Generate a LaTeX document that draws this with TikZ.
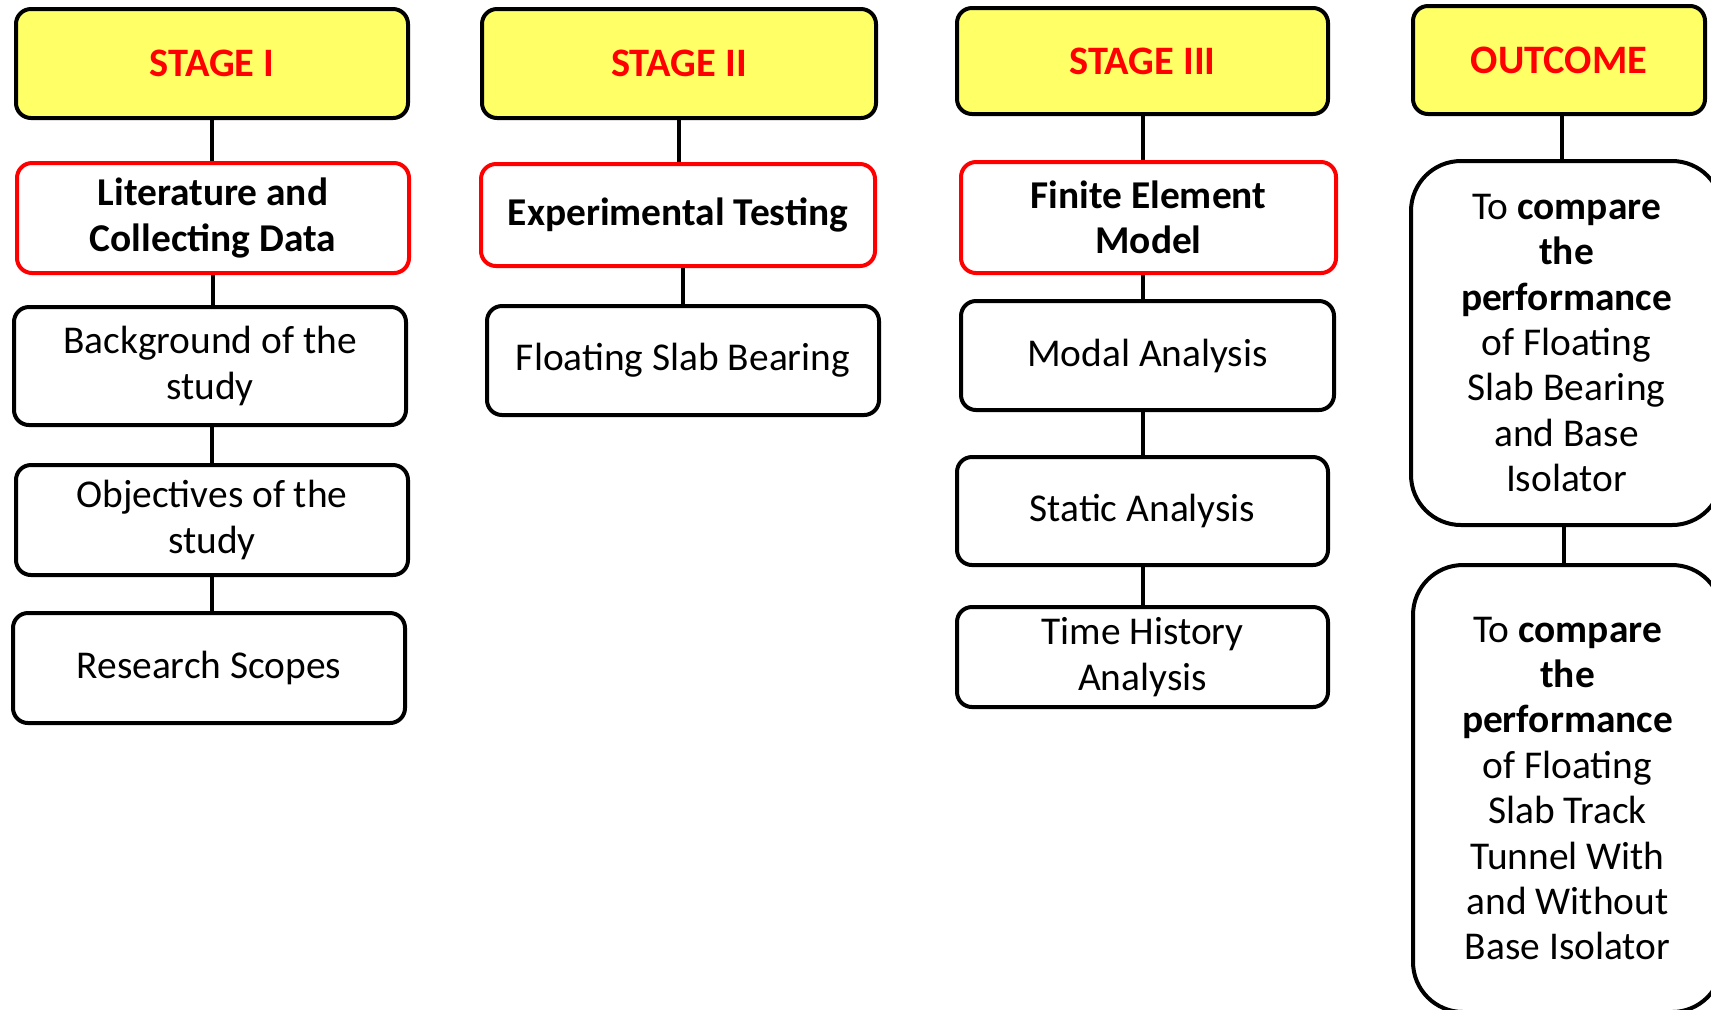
\documentclass[tikz,border=0pt]{standalone}
\usepackage{fontspec}
\setmainfont{Carlito}
\definecolor{hdr}{HTML}{FFFF66}
\tikzset{
 base/.style={rectangle, rounded corners=7.5pt, line width=2pt, align=center, inner sep=0pt, fill=white, font=\fontsize{19.7}{22.7}\selectfont},
 hdrbox/.style={base, draw=black, fill=hdr, font=\fontsize{20.2}{23}\selectfont\bfseries, text=red},
 keybox/.style={base, draw=red, font=\fontsize{19.7}{22.7}\selectfont\bfseries},
 plainbox/.style={base, draw=black},
 outbox/.style={base, draw=black, rounded corners=25pt},
 link/.style={line width=2pt}
}
\begin{document}
\begin{tikzpicture}[x=0.5pt,y=-0.5pt]
\clip (0,0) rectangle (1711,1009);
% column 1
\node[hdrbox, minimum width=196pt, minimum height=54.5pt] (s1) at (212,63.5) {STAGE I};
\node[keybox, minimum width=196pt, minimum height=55pt] (lit) at (213,218) {Literature and\\Collecting Data};
\node[plainbox, minimum width=196pt, minimum height=59pt] (bg) at (210,366) {Background of the\\study};
\node[plainbox, minimum width=196pt, minimum height=55pt] (obj) at (212,520) {Objectives of the\\study};
\node[plainbox, minimum width=196pt, minimum height=55pt] (res) at (209,668) {Research Scopes};
% column 2
\node[hdrbox, minimum width=197pt, minimum height=54.5pt] (s2) at (679,63.5) {STAGE II};
\node[keybox, minimum width=197pt, minimum height=51pt] (exp) at (678,215) {Experimental Testing};
\node[plainbox, minimum width=196pt, minimum height=54.5pt] (fsb) at (683,360.5) {Floating Slab Bearing};
% column 3
\node[hdrbox, minimum width=185.5pt, minimum height=53pt] (s3) at (1142.5,61) {STAGE III};
\node[keybox, minimum width=187.5pt, minimum height=55.5pt] (fem) at (1148.5,217.5) {Finite Element\\Model};
\node[plainbox, minimum width=186.5pt, minimum height=54.5pt] (mod) at (1147.5,355.5) {Modal Analysis};
\node[plainbox, minimum width=185.5pt, minimum height=54pt] (sta) at (1142.5,511) {Static Analysis};
\node[plainbox, minimum width=185.5pt, minimum height=50pt] (tim) at (1142.5,657) {Time History\\Analysis};
% column 4
\node[hdrbox, minimum width=146pt, minimum height=54pt] (out) at (1559,60) {OUTCOME};
\node[outbox, minimum width=155.5pt, minimum height=182pt] (o1) at (1566.5,343) {To \textbf{compare}\\\textbf{the}\\\textbf{performance}\\of Floating\\Slab Bearing\\and Base\\Isolator};
\node[outbox, minimum width=154.5pt, minimum height=223.5pt] (o2) at (1567.5,788.5) {To \textbf{compare}\\\textbf{the}\\\textbf{performance}\\of Floating\\Slab Track\\Tunnel With\\and Without\\Base Isolator};
% connectors
\draw[link] (s1.south) -- (s1.south |- lit.north);
\draw[link] (lit.south) -- (lit.south |- bg.north);
\draw[link] (obj.north |- bg.south) -- (obj.north);
\draw[link] (obj.south) -- (obj.south |- res.north);
\draw[link] (s2.south) -- (s2.south |- exp.north);
\draw[link] (fsb.north |- exp.south) -- (fsb.north);
\draw[link] (s3.south) -- (s3.south |- fem.north);
\draw[link] (s3.south |- fem.south) -- (s3.south |- mod.north);
\draw[link] (sta.north |- mod.south) -- (sta.north);
\draw[link] (sta.south) -- (sta.south |- tim.north);
\draw[link] ([xshift=1.5pt]out.south) -- ([xshift=1.5pt]out.south |- o1.north);
\draw[link] ([xshift=-1.5pt]o1.south) -- ([xshift=-1.5pt]o1.south |- o2.north);
\end{tikzpicture}
\end{document}
